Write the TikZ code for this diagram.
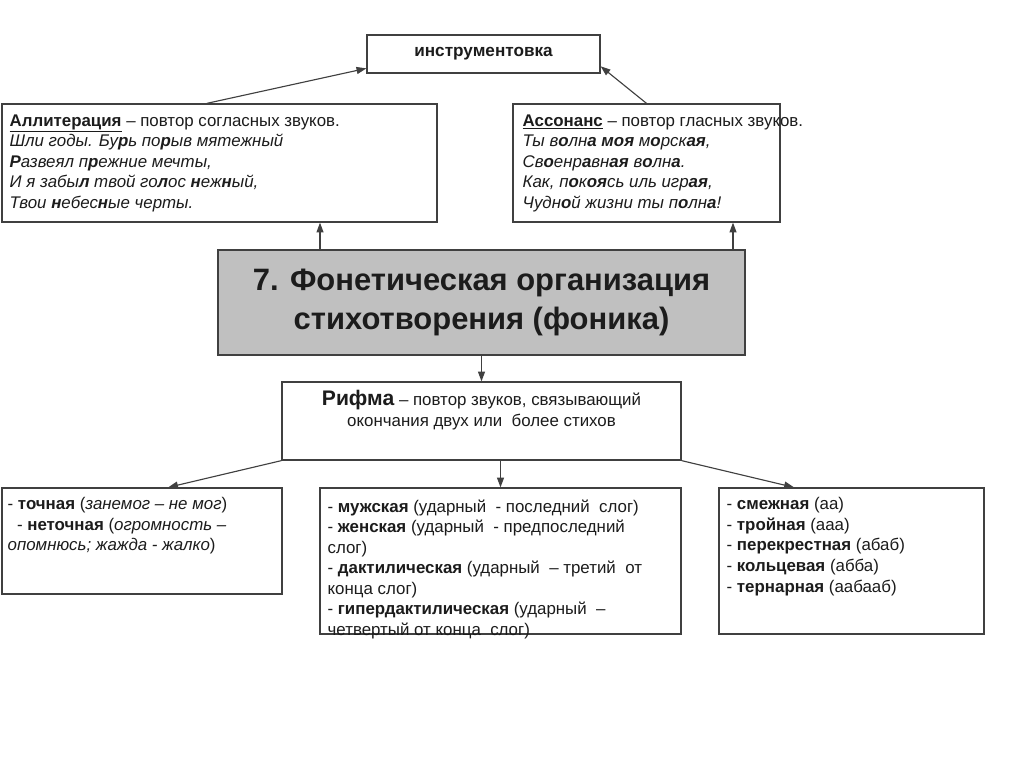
\documentclass[tikz,border=0pt]{standalone}
\usepackage{fontspec}
\setmainfont{Liberation Sans}
\usetikzlibrary{positioning,arrows.meta,fit}
\definecolor{framegray}{RGB}{64,64,64}
\definecolor{titlegray}{RGB}{192,192,192}
\definecolor{inkdark}{RGB}{28,28,28}

\tikzset{
  frame/.style={draw=framegray, line width=0.9pt, inner sep=0pt, fill=white},
  body/.style={align=left, inner sep=0pt, text=inkdark,
    font=\fontsize{12}{14.6}\selectfont},
  link/.style={draw=framegray, line width=0.8pt, -{Triangle[length=7pt,width=5pt]}},
}

\begin{document}
\begin{tikzpicture}[x=0.025cm,y=-0.025cm]
    \fill[white] (0,0) rectangle (1024,767);
    \useasboundingbox (0,0) rectangle (1024,767);

    \node[frame, fit={(367,35) (600,73)}] (instr) {};
    \node[frame, fit={(2,104) (437,222)}] (allit) {};
    \node[frame, fit={(513,104) (780,222)}] (asson) {};
    \node[frame, fill=titlegray, fit={(218,250) (745,355)}] (phon) {};
    \node[frame, fit={(282,382) (681,460)}] (rhyme) {};
    \node[frame, fit={(2,488) (282,594)}] (exact) {};
    \node[frame, fit={(320,488) (681,634)}] (stress) {};
    \node[frame, fit={(719,488) (984,634)}] (order) {};

    \node[body, font=\bfseries\fontsize{12.2}{14}\selectfont] (instrtxt) at (instr.center)
      {инструментовка};
    \node[body, align=center, font=\bfseries\fontsize{22}{27.5}\selectfont] (phontxt)
      at (phon.center) {7. Фонетическая организация\\стихотворения (фоника)};
    \node[body, below right=0.27cm and 0.2cm of allit.north west] (allittxt)
      {\underline{\textbf{Аллитерация}} – повтор согласных звуков.\\
       \textit{Шли годы. Бу\textbf{р}ь по\textbf{р}ыв мятежный}\\
       \textit{\textbf{Р}азвеял п\textbf{р}ежние мечты,}\\
       \textit{И я забы\textbf{л} твой го\textbf{л}ос \textbf{н}еж\textbf{н}ый,}\\
       \textit{Твои \textbf{н}ебес\textbf{н}ые черты.}};
    \node[body, below right=0.27cm and 0.25cm of asson.north west] (assontxt)
      {\underline{\textbf{Ассонанс}} – повтор гласных звуков.\\
       \textit{Ты в\textbf{о}лн\textbf{а} \textbf{моя} м\textbf{о}рск\textbf{ая},}\\
       \textit{Св\textbf{о}енр\textbf{а}вн\textbf{ая} в\textbf{о}лн\textbf{а}.}\\
       \textit{Как, п\textbf{о}к\textbf{оя}сь иль игр\textbf{ая},}\\
       \textit{Чудн\textbf{о}й жизни ты п\textbf{о}лн\textbf{а}!}};
    \node[body, align=center, below=0.22cm of rhyme.north] (rhymetxt)
      {{\fontsize{15}{14.6}\selectfont\textbf{Рифма}} – повтор звуков, связывающий\\
       окончания двух или\ \ более стихов};
    \node[body, below right=0.25cm and 0.15cm of exact.north west] (exacttxt)
      {- \textbf{точная} (\textit{занемог – не мог})\\
       \ \ - \textbf{неточная} (\textit{огромность –}\\
       \textit{опомнюсь; жажда - жалко})};
    \node[body, below right=0.3cm and 0.2cm of stress.north west] (stresstxt)
      {- \textbf{мужская} (ударный\ \ - последний\ \ слог)\\
       - \textbf{женская} (ударный\ \ - предпоследний\\
       слог)\\
       - \textbf{дактилическая} (ударный\ \ – третий\ \ от\\
       конца слог)\\
       - \textbf{гипердактилическая} (ударный\ \ –\\
       четвертый от конца\ \ слог)};
    \node[body, below right=0.25cm and 0.2cm of order.north west] (ordertxt)
      {- \textbf{смежная} (аа)\\
       - \textbf{тройная} (ааа)\\
       - \textbf{перекрестная} (абаб)\\
       - \textbf{кольцевая} (абба)\\
       - \textbf{тернарная} (аабааб)};

    \coordinate (lcol) at (320,0);
    \coordinate (rcol) at (733,0);
    \draw[link] (allit.102) -- (instr.187);
    \draw[link] (asson.north) -- (instr.354);
    \draw[link] (phon.north -| lcol) -- (allit.south -| lcol);
    \draw[link] (phon.north -| rcol) -- (asson.south -| rcol);
    \draw[link] (phon.south -| rhyme.north) -- (rhyme.north);
    \draw[link] (rhyme.south west) -- (exact.64);
    \draw[link] (rhyme.south -| stress.north) -- (stress.north);
    \draw[link] (rhyme.south east) -- (order.128);
  \end{tikzpicture}
\end{document}
